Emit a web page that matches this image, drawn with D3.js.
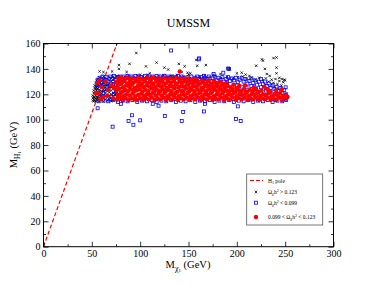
<!DOCTYPE html>
<html><head><meta charset="utf-8">
<script src="https://cdn.jsdelivr.net/npm/d3@7"></script>
<style>body{margin:0;background:#fff}svg{display:block}text{font-family:"Liberation Serif","DejaVu Serif",serif}</style>
</head><body><svg id="c" width="376" height="291"></svg>
<script>
const xTicks=[0,50,100,150,200,250,300];
const yTicks=[0,20,40,60,80,100,120,140,160];
const poleLine=[[0,0],[76,160]];
const blackPts=[[51,115],[51,117],[51,119],[52,114.5],[52,116],[52,118],[52,121],[52,123],[53,115],[53,117.5],[53,120],[53,122],[53,125],[53,127],[54,114.5],[54,116.5],[54,119],[54,121.5],[54,124],[54,126.5],[54,129],[55,116],[55,118],[55,120.5],[55,123],[55,125.5],[55,128],[55,131],[56,115],[56,117],[56,122],[56,124.5],[56,127],[56,129.5],[56,132],[58,114.5],[58,116.5],[58,119],[58,121],[58,123.5],[58,126],[58,128.5],[58,131],[58,133],[60,115.5],[60,118],[60,120.5],[60,122.5],[60,125],[60,127.5],[60,130],[60,132.5],[62,114.5],[62,117],[62,119.5],[62,122],[62,124],[62,126.5],[62,129],[62,131.5],[62,134],[64,116],[64,118.5],[64,121],[64,123.5],[64,125.5],[64,128],[64,130.5],[64,133],[66,115],[66,117.5],[66,122.5],[66,127],[66,129.5],[66,132],[68,116],[68,119],[68,121.5],[68,124],[68,126],[68,128.5],[68,131],[68,133.5],[70,114.5],[70,117],[70,120],[70,123],[70,125.5],[70,130],[70,132.5],[72,115.5],[72,118.5],[72,121],[72,124.5],[72,127],[72,129],[72,131.5],[72,134],[74,116.5],[74,119.5],[74,122],[74,126],[74,128.5],[74,133],[76,115],[76,118],[76,121],[76,124],[76,127.5],[76,130.5],[76,134.5],[78,117],[78,120],[78,123],[78,129],[78,132.5],[80,115.5],[80,119],[80,125],[80,131],[80,134],
[84,133.5],[88,134.5],[92,132.5],[97,135],[103,134],[108,135.5],[114,133],[119,134.5],[124,135],[128,133.5],[133,134.5],[138,135],[145,134],[150,135.5],[156,133],[162,134],[167,135],[172,133.5],[178,134.5],[184,133],[190,134],[196,132.5],[201,133.5],[206,134],[210,132],[215,133],[219,131.5],[223,133],[227,131],[230,132.5],[233,130],[236,131.5],[238,129],[240,132],[242,128],[244,130.5],[246,127],[247,132],[248,129.5],[250,131],[236,128],[239,126],[243,124],[245,121],[248,118],
[58,138],[62,137.5],[71,138],[78,143],[78,140],[86,137.5],[89,144],[96,152.5],[100,135.5],[106,142],[110,136.5],[117,145],[125,141],[129,139.5],[140,144],[143,137.5],[146,142],[149,137],[152,136.5],[158,147],[159,142.5],[168,143],[175,135],[183,136],[192,140],[200,136.5],[205,137],[209,135.5],[213,134.5],[220,142.5],[226,147.5],[227,146.5],[229,140],[231,136],[234,134.5],[238,148.5],[241,149],[241,141],[241,136.5],[244,133],[249,131.5]];
const bluePts=[[56,131],[58,133],[60,129.5],[61,134],[63,131.5],[65,133.5],[67,130],[69,134],[71,132],[73,134.5],[75,131],[77,133.5],[79,134],[81,132],[83,134],[85,133],[87,134.5],[89,132.5],[91,134],[93,133],[95,134.5],[97,132],[99,134],[101,133.5],[103,132],[105,134.5],[107,133],[109,134],[111,132.5],[113,134],[115,133],[117,134.5],[119,132],[121,134],[123,133],[125,134.5],[127,132.5],[129,134],[131,133],[133,134],[135,132],[137,133.5],[139,134.5],[141,132.5],[143,134],[145,133],[147,131.5],[149,133.5],[151,132],[153,134],[155,131],[157,133],[159,134],[161,132],[163,133.5],[165,131.5],[167,133],[169,132],[171,134],[173,130.5],[175,132.5],[177,134],[179,131],[181,133],[183,131.5],[185,133.5],[187,130],[189,132],[191,133.5],[193,130.5],[195,132.5],[197,131],[199,133],[201,129.5],[203,131.5],[205,133],[207,130],[209,132],[211,128.5],[213,130.5],[215,132.5],[217,129],[219,131],[221,127.5],[223,130],[225,132],[227,128],[229,130],[231,126.5],[233,128.5],[235,125],[237,127],[239,124],[241,126],[243,122.5],[245,125],[247,121],[249,123.5],[251,120],[252,118],
[60,127],[64,128],[68,126.5],[72,128],[80,128.5],[90,129],[100,128],[110,129.5],[120,128.5],[130,129],[140,128],[150,129],[160,128.5],[170,129],[180,128],[190,127.5],[200,127],[205,126],[210,125.5],[215,126.5],[220,124],[225,125.5],[230,123],[235,121.5],[240,120],[245,118.5],[250,116.5],[200,122],[210,120],[220,119],[230,117],[240,115.5],[215,116],[225,121],[205,118],[195,124],
[57,114.5],[62,115],[67,114.5],[72,115.5],[77,114],[82,115],[87,114.5],[92,115.5],[97,114],[102,115],[107,114.5],[112,115.5],[117,114],[122,115],[127,114.5],[132,115.5],[137,114],[142,115],[147,114.5],[152,115.5],[157,114],[162,115],[167,114.5],[172,115.5],[177,114],[182,115],[187,114.5],[192,115.5],[197,114],[202,115],[207,114.5],[212,115.5],[217,114],[222,115],[227,114.5],[232,115.5],[237,114],[242,115],[247,114.5],[251,115.5],
[85,121],[95,125],[105,119],[115,123],[125,127],[135,120],[145,124],[155,118],[165,122],[175,126],[185,119],[195,121],[58,120],[63,124],[70,118],[75,122],[55,125],[57,128],[59,118],[62,121],[66,126],[69,116],[73,120],
[132,154.5],[160.5,147.5],[161,148.3],[191,140.3],[192,140],[186,137],[176,136],[166,134.5],[250.5,125.5],
[56,109],[71.5,94.5],[80,112.5],[88,99],[91.5,103.5],[93,96],[100,99.5],[113,112.5],[119,111],[125.5,103],[143,99],[144.5,106],[166,106.5],[167,112.5],[199,100.5],[201,110.5],[204,99]];
const redPts=[[76,116],[77,119.5],[75.5,123],[76.5,126.5],[75,129.5],[77.5,132.5],[79,117.5],[80,121],[78.5,124.5],[79.5,128],[78,131],[80.5,133],[82,115.5],[83,118.5],[81.5,122],[82.5,125.5],[81,129],[83.5,132],[85,117],[86,120],[84.5,123.5],[85.5,127],[84,130.5],[86.5,133],[88,115.5],[89,119],[87.5,122.5],[88.5,126],[87,128.5],[89.5,131.5],[91,117],[92,120.5],[90.5,124],[91.5,127.5],[90,130],[92.5,132.5],[94,116],[95,118.5],[93.5,122],[94.5,125],[93,129],[95.5,131.5],[97,115.5],[98,119.5],[96.5,123],[97.5,126.5],[96,130],[98.5,133],[100,117],[101,120.5],[99.5,124],[100.5,127],[99,129.5],[101.5,132],[103,115.5],[104,118.5],[102.5,122],[103.5,125.5],[102,128.5],[104.5,131.5],[106,117],[107,120],[105.5,123.5],[106.5,127],[105,130],[107.5,133],[109,116],[110,119.5],[108.5,122.5],[109.5,126],[108,129],[110.5,132],[112,117.5],[113,121],[111.5,124.5],[112.5,127.5],[111,130.5],[113.5,133],[115,115.5],[116,119],[114.5,122],[115.5,125.5],[114,128.5],[116.5,131.5],[118,117],[119,120.5],[117.5,123.5],[118.5,127],[117,130],[119.5,132.5],[121,116],[122,119],[120.5,122.5],[121.5,126],[120,129],[122.5,132],[124,117.5],[125,121],[123.5,124],[124.5,127.5],[123,130.5],[125.5,133],[127,115.5],[128,118.5],[126.5,122],[127.5,125],[126,128.5],[128.5,131.5],[130,117],[131,120],[129.5,123.5],[130.5,126.5],[129,130],[131.5,132.5],[133,116],[134,119.5],[132.5,122.5],[133.5,126],[132,129],[134.5,131.5],[136,117.5],[137,121],[135.5,124.5],[136.5,127.5],[135,130.5],[137.5,133],[139,115.5],[140,118.5],[138.5,122],[139.5,125.5],[138,128.5],[140.5,131.5],[142,117],[143,120],[141.5,123],[142.5,126.5],[141,130],[143.5,132.5],[145,116],[146,119.5],[144.5,122.5],[145.5,126],[144,129],[146.5,131],[148,117.5],[149,121],[147.5,124.5],[148.5,127.5],[147,130.5],[149.5,132.5],[151,115.5],[152,118.5],[150.5,122],[151.5,125],[150,128],[152.5,131],[154,117],[155,120],[153.5,123.5],[154.5,126.5],[153,129.5],[155.5,132],[157,116],[158,119.5],[156.5,122.5],[157.5,126],[156,129],[158.5,131.5],[160,117.5],[161,121],[159.5,124],[160.5,127.5],[159,130.5],[163,115.5],[164,118.5],[162.5,122],[163.5,125],[162,128.5],[164.5,131],[166,117],[167,120],[165.5,123.5],[166.5,126.5],[165,129.5],[169,116],[170,119.5],[168.5,122.5],[169.5,126],[168,128.5],[170.5,131],[172,117.5],[173,121],[171.5,124],[172.5,127],[171,130],[175,115.5],[176,118.5],[174.5,122],[175.5,125],[174,128],[176.5,130.5],[178,117],[179,120],[177.5,123.5],[178.5,126.5],[177,129.5],[181,116],[182,119.5],[180.5,122.5],[181.5,125.5],[180,128.5],[184,117.5],[185,121],[183.5,124],[184.5,127],[183,130],[187,115.5],[188,118.5],[186.5,122],[187.5,125],[186,128],[190,117],[191,120],[189.5,123],[190.5,126.5],[189,129],[193,116],[194,119.5],[192.5,122.5],[193.5,125.5],[196,117.5],[197,121],[195.5,124],[196.5,127.5],[199,115.5],[200,118.5],[198.5,122],[199.5,125],[202,117],[203,120],[201.5,123.5],[202.5,126.5],[205,116],[206,119.5],[204.5,122.5],[208,117.5],[209,121],[207.5,124],[208.5,127],[211,115.5],[212,118.5],[210.5,122],[214,117],[215,120],[213.5,123.5],[217,116],[218,119.5],[216.5,122.5],[217.5,125.5],[220,117.5],[221,121],[219.5,124],[223,115.5],[224,118.5],[222.5,122],[226,117],[227,120],[225.5,123],[229,116],[230,119.5],[228.5,126],[232,117.5],[233,121],[231.5,124],[235,115.5],[236,118.5],[234.5,122],[238,117],[239,120],[241,116],[242,119.5],[240.5,123],[244,117.5],[245,121],[247,115.5],[248,118.5],[246.5,124],[250,117],[251,119.5],[252.5,118],
[56,129],[57,121],[59,116.5],[60,126],[64,130.5],[66,119],[67,123.5],[70,127],[72,117],[73,125],[58,131],[62,118],[54,121],[141,138]];

const svg=d3.select("#c");
const x=d3.scaleLinear().domain([0,300]).range([43.5,333.5]);
const y=d3.scaleLinear().domain([0,160]).range([246.7,43.5]);
const X0=x(0),X1=x(300),Y0=y(0),Y1=y(160);

// clip
svg.append("defs").append("clipPath").attr("id","pc").append("rect").attr("x",X0).attr("y",Y1).attr("width",X1-X0).attr("height",Y0-Y1);
const g=svg.append("g").attr("clip-path","url(#pc)");

// pole line
g.append("path").attr("d",d3.line().x(d=>x(d[0])).y(d=>y(d[1]))(poleLine))
 .attr("stroke","#ff0000").attr("stroke-width",1.2).attr("stroke-dasharray","4,2.5").attr("fill","none");

function cross(sel,cx,cy,s){sel.append("path").attr("d",`M${cx-s},${cy-s}L${cx+s},${cy+s}M${cx-s},${cy+s}L${cx+s},${cy-s}`).attr("stroke","#000").attr("stroke-width",0.8).attr("fill","none");}
blackPts.forEach(d=>cross(g,x(d[0]),y(d[1]),1.2));
g.selectAll(".b").data(bluePts).enter().append("rect")
 .attr("x",d=>x(d[0])-1.5).attr("y",d=>y(d[1])-1.5).attr("width",3).attr("height",3)
 .attr("fill","none").attr("stroke","#0000ff").attr("stroke-width",0.8);
g.selectAll(".r").data(redPts).enter().append("circle")
 .attr("cx",d=>x(d[0])).attr("cy",d=>y(d[1])).attr("r",2.2).attr("fill","#ff0000");

// frame
svg.append("rect").attr("x",X0).attr("y",Y1).attr("width",X1-X0).attr("height",Y0-Y1).attr("fill","none").attr("stroke","#000").attr("stroke-width",1);

// axes ticks inward
const font="Liberation Serif";
const bx=svg.append("g").attr("transform",`translate(0,${Y0})`).call(d3.axisBottom(x).tickValues(xTicks).tickSize(-5).tickPadding(3));
const bxm=svg.append("g").attr("transform",`translate(0,${Y0})`).call(d3.axisBottom(x).tickValues(d3.range(25,300,50)).tickSize(-2.5).tickFormat(""));
const tx=svg.append("g").attr("transform",`translate(0,${Y1})`).call(d3.axisTop(x).tickValues(xTicks).tickSize(-5).tickFormat(""));
const txm=svg.append("g").attr("transform",`translate(0,${Y1})`).call(d3.axisTop(x).tickValues(d3.range(25,300,50)).tickSize(-2.5).tickFormat(""));
const ly=svg.append("g").attr("transform",`translate(${X0},0)`).call(d3.axisLeft(y).tickValues(yTicks).tickSize(-5).tickPadding(3));
const lym=svg.append("g").attr("transform",`translate(${X0},0)`).call(d3.axisLeft(y).tickValues(d3.range(10,160,20)).tickSize(-2.5).tickFormat(""));
const ry=svg.append("g").attr("transform",`translate(${X1},0)`).call(d3.axisRight(y).tickValues(yTicks).tickSize(-5).tickFormat(""));
const rym=svg.append("g").attr("transform",`translate(${X1},0)`).call(d3.axisRight(y).tickValues(d3.range(10,160,20)).tickSize(-2.5).tickFormat(""));
svg.selectAll(".domain").remove();
svg.selectAll(".tick line").attr("stroke","#000").attr("stroke-width",0.8);
svg.selectAll(".tick text").attr("font-family",font).attr("font-size",10).attr("fill","#000");

// title
svg.append("text").attr("x",188.5).attr("y",27).attr("text-anchor","middle").attr("font-size",12).text("UMSSM");

// x label
const xl=svg.append("text").attr("x",188).attr("y",268).attr("text-anchor","middle").attr("font-size",10.5);
xl.append("tspan").text("M");
xl.append("tspan").attr("font-size",8).attr("dy",2.5).text("χ");
xl.append("tspan").attr("font-size",5).attr("dy",1.5).text("1");
xl.append("tspan").attr("dy",-4).text(" (GeV)");

// y label
const yl=svg.append("text").attr("transform","translate(17,145) rotate(-90)").attr("text-anchor","middle").attr("font-size",10.5);
yl.append("tspan").text("M");
yl.append("tspan").attr("font-size",7.5).attr("dy",2.5).text("H");
yl.append("tspan").attr("font-size",5).attr("dy",1.5).text("1");
yl.append("tspan").attr("dy",-4).text(" (GeV)");

// legend
const L=svg.append("g");
L.append("rect").attr("x",246.7).attr("y",174).attr("width",76).attr("height",51).attr("fill","#fff").attr("stroke","#555").attr("stroke-width",0.8);
L.append("line").attr("x1",250).attr("x2",263).attr("y1",180.5).attr("y2",180.5).attr("stroke","#ff0000").attr("stroke-width",1).attr("stroke-dasharray","4,2");
cross(L,256,192,1.2);
L.append("rect").attr("x",254.5).attr("y",201.2).attr("width",3).attr("height",3).attr("fill","none").attr("stroke","#0000ff").attr("stroke-width",0.8);
L.append("circle").attr("cx",256).attr("cy",217).attr("r",2.2).attr("fill","#ff0000");
function ltext(yy,parts){const t=L.append("text").attr("x",268).attr("y",yy).attr("font-size",5.5);parts.forEach(p=>{const s=t.append("tspan").text(p[0]);if(p[1])s.attr("dy",p[1]);if(p[2])s.attr("font-size",p[2]);});}
ltext(182.5,[["H"],["1",1.2,4],[" pole",-1.2]]);
ltext(194,[["Ω"],["χ",1.2,4.2],["h",-1.2],["2",-2,4],[" > 0.123",2]]);
ltext(204.5,[["Ω"],["χ",1.2,4.2],["h",-1.2],["2",-2,4],[" < 0.099",2]]);
ltext(219,[["0.099 < Ω"],["χ",1.2,4.2],["h",-1.2],["2",-2,4],[" < 0.123",2]]);
</script></body></html>
